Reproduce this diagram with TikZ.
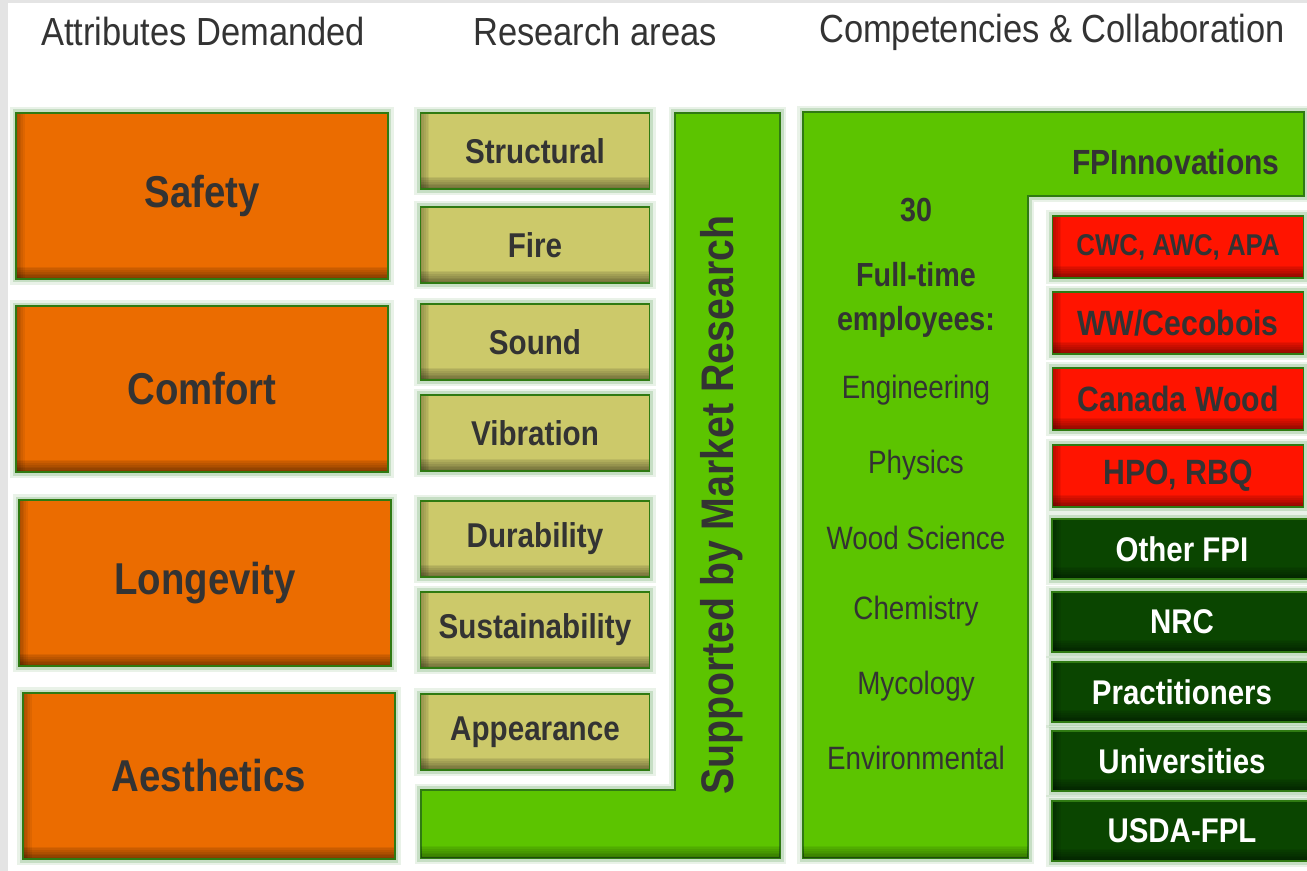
\documentclass[tikz,border=0pt]{standalone}
\usepackage{fontspec}
\setmainfont{Liberation Sans}
\newfontfamily\boxfont[FakeStretch=0.86]{Liberation Sans}
\newfontfamily\headfont[FakeStretch=0.88]{Liberation Sans}
\usepackage{xcolor}
\usepackage{tikz}

\definecolor{bggray}{HTML}{E4E4E4}
\definecolor{attrorange}{HTML}{EB6C00}
\definecolor{areatan}{HTML}{CCC96A}
\definecolor{leafgreen}{HTML}{5CC400}
\definecolor{partnerred}{HTML}{FF1400}
\definecolor{groupgreen}{HTML}{0A4500}
\definecolor{edgegreen}{HTML}{2F7A12}
\definecolor{glowgreen}{HTML}{86B983}
\definecolor{textgray}{HTML}{333333}

\tikzset{
	glow/.style={preaction={draw=glowgreen,line width=7pt,draw opacity=0.18},
		preaction={draw=glowgreen,line width=4pt,draw opacity=0.35}},
	box/.style={draw=edgegreen,line width=0.9pt,inner sep=0pt,outer sep=0pt,glow,
		path picture={
			% inner shadow, bottom and left edge
			\foreach \k in {1,...,7}
				\fill[black,opacity=0.07] (path picture bounding box.south west) rectangle ([yshift=\k pt]path picture bounding box.south east);
			\foreach \k in {1,...,5}
				\fill[black,opacity=0.06] (path picture bounding box.south west) rectangle ([xshift=\k pt]path picture bounding box.north west);
		}},
	lshape/.style={fill=leafgreen,draw=edgegreen,line width=0.9pt,glow},
	boldtext/.style={font=\boxfont\bfseries\fontsize{#1}{#1}\selectfont}
}

\begin{document}
\begin{tikzpicture}[x=0.02cm,y=-0.02cm,
	attr/.style={box,fill=attrorange,text=textgray,minimum width=7.44cm,minimum height=3.32cm,boldtext=25.4},
	area/.style={box,fill=areatan,text=textgray,minimum width=4.58cm,minimum height=1.52cm,boldtext=19.6},
	partner/.style={box,fill=partnerred,text=textgray,minimum width=5.02cm,minimum height=1.24cm,boldtext=20},
	group/.style={box,fill=groupgreen,text=white,minimum width=5.2cm,minimum height=1.2cm,boldtext=19.5}]
	
	\useasboundingbox (0,0) rectangle (1307,871);
	\fill[bggray] (0,0) rectangle (1307,871);
	\fill[white] (8,3) rectangle (1307,871);
	
	% column headings
	\begin{scope}[every node/.style={text=textgray,font=\headfont\fontsize{22.3}{24}\selectfont}]
		\node (attrhead) at (203,32) {Attributes Demanded};
		\node (areahead) at (595,32) {Research areas};
		\node (comphead) at (1052,32) {Competencies \& Collaboration};
	\end{scope}
	
	% green L shapes
	\draw[lshape] (421,790) -- (675,790) -- (675,113) -- (780,113) -- (780,858) -- (421,858) -- cycle;
	\draw[lshape] (803,112) -- (1304,112) -- (1304,196) -- (1028,196) -- (1028,858) -- (803,858) -- cycle;
	\foreach \k in {1,...,7}{
		\fill[black,opacity=0.06] (421,858) rectangle ([yshift=\k pt]780,858);
		\fill[black,opacity=0.06] (803,858) rectangle ([yshift=\k pt]1028,858);
	}
	
	\node[rotate=90,text=textgray,boldtext=26] (market) at (722,505) {Supported by Market Research};
	\node[text=textgray,boldtext=19.9] (fpi) at (1176,162) {FPInnovations};
	
	% attributes
	\node[attr] (safety) at (202,196) {Safety};
	\node[attr] (comfort) at (202,389) {Comfort};
	\node[attr] (longevity) at (205,583) {Longevity};
	\node[attr] (aesthetics) at (209,776) {Aesthetics};
	
	% research areas
	\node[area] (structural) at (535,151) {Structural};
	\node[area] (fire) at (535,245) {Fire};
	\node[area] (sound) at (535,342) {Sound};
	\node[area] (vibration) at (535,433) {Vibration};
	\node[area] (durability) at (535,539) {Durability};
	\node[area] (sustain) at (535,630) {Sustainability};
	\node[area] (appearance) at (535,732) {Appearance};
	
	% staff
	\begin{scope}[every node/.style={text=textgray,boldtext=19}]
		\node (thirty) at (916,210) {30};
		\node (fulltime) at (916,275) {Full-time};
		\node (employees) at (916,322) {employees:};
	\end{scope}
	\begin{scope}[every node/.style={text=textgray,font=\boxfont\fontsize{18.4}{20}\selectfont}]
		\node (eng) at (916,390) {Engineering};
		\node (phys) at (916,465) {Physics};
		\node (woodsci) at (916,538) {Wood Science};
		\node (chem) at (916,611) {Chemistry};
		\node (myco) at (916,686) {Mycology};
		\node (env) at (916,758) {Environmental};
	\end{scope}
	
	% collaborators
	\node[partner,boldtext=17.1] (cwc) at (1178,247) {CWC, AWC, APA};
	\node[partner] (ww) at (1178,323) {WW/Cecobois};
	\node[partner] (canada) at (1178,399) {Canada Wood};
	\node[partner] (hpo) at (1178,476) {HPO, RBQ};
	\node[group] (otherfpi) at (1182,549) {Other FPI};
	\node[group] (nrc) at (1182,622) {NRC};
	\node[group] (practice) at (1182,692) {Practitioners};
	\node[group] (univ) at (1182,761) {Universities};
	\node[group] (usda) at (1182,831) {USDA-FPL};
\end{tikzpicture}
\end{document}
